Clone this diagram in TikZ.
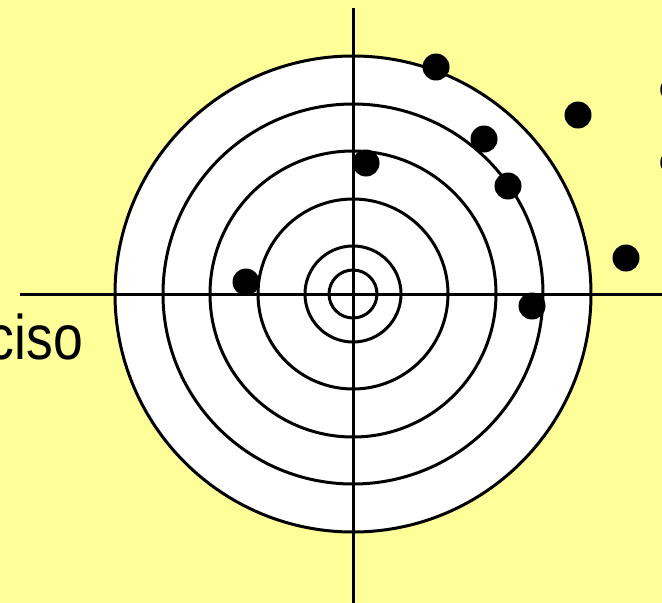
\documentclass[tikz,border=0pt]{standalone}
\usepackage{fontspec}
\setmainfont{Liberation Sans}
\begin{document}
\begin{tikzpicture}[x=1pt,y=-1pt,
  ring/.style={draw=black,line width=3pt},
  axis/.style={draw=black,line width=3pt},
  shot/.style={circle,fill=black,inner sep=0pt,minimum size=27pt}]
\useasboundingbox (0,0) rectangle (662,603);
\clip (0,0) rectangle (662,603);
\fill[fill={rgb,255:red,255;green,255;blue,153}] (0,0) rectangle (662,603);
\coordinate (c) at (353,294);
\fill[white] (c) circle[radius=238];
\foreach \r in {238,190,143,95,48,24} {\draw[ring] (c) circle[radius=\r];}
\coordinate (vt) at (353,8);
\coordinate (vb) at (353,603);
\coordinate (hl) at (20,294);
\coordinate (hr) at (662,294);
\draw[axis] (vt) -- (vb);
\draw[axis] (hl) -- (hr);
\node[shot] (d1) at (436,67) {};
\node[shot] (d2) at (578,115) {};
\node[shot] (d3) at (484,139) {};
\node[shot] (d4) at (366,163) {};
\node[shot] (d5) at (508,186) {};
\node[shot] (d6) at (626,258) {};
\node[shot] (d7) at (246,282) {};
\node[shot] (d8) at (532,306) {};
\node[anchor=base east,inner sep=0pt,font=\fontsize{63}{70}\selectfont,xscale=0.85] (t) at (83,359) {Preciso};
\node[anchor=base west,inner sep=0pt,font=\fontsize{32}{36}\selectfont] (r1) at (659,98) {o};
\node[anchor=base west,inner sep=0pt,font=\fontsize{32}{36}\selectfont] (r2) at (659,171) {o};
\end{tikzpicture}
\end{document}
